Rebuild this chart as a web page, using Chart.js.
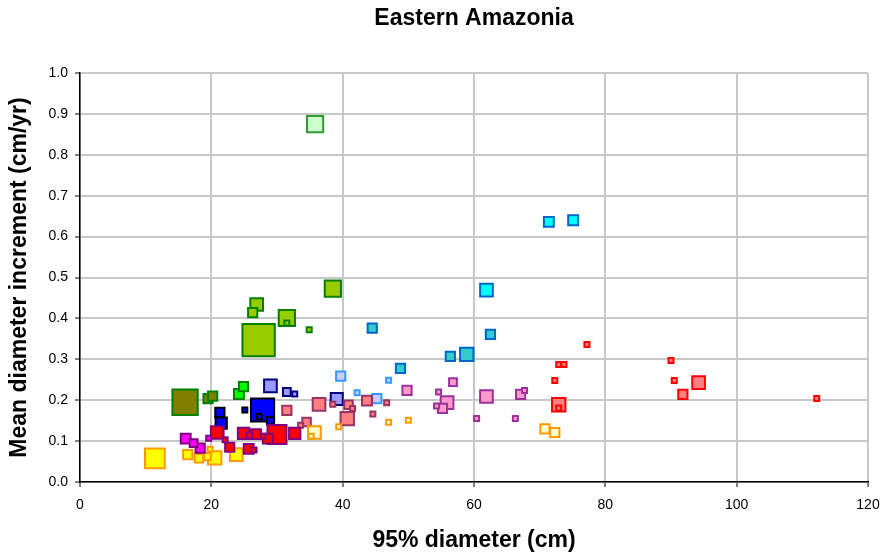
<!DOCTYPE html>
<html>
<head>
<meta charset="utf-8">
<title>Eastern Amazonia</title>
<script src="https://cdn.jsdelivr.net/npm/chart.js@4/dist/chart.umd.min.js"></script>
<style>
  html, body { margin: 0; padding: 0; background: #ffffff; }
  #wrap { width: 884px; height: 552px; }
</style>
</head>
<body>
<div id="wrap"><canvas id="chart" width="884" height="552"></canvas></div>
<script>
// Axis ticks
const xTicks = [0, 20, 40, 60, 80, 100, 120];
const yTicks = [0.0, 0.1, 0.2, 0.3, 0.4, 0.5, 0.6, 0.7, 0.8, 0.9, 1.0];

// Each point: [95% diameter (cm), mean diameter increment (cm/yr), relative weight]
const paleGreen   = [[35.8, 0.875, 2.6]];
const limeGreen   = [[27.2, 0.347, 4.9], [38.5, 0.473, 2.6], [31.5, 0.401, 2.6], [26.9, 0.434, 2.1],
                     [26.3, 0.414, 1.6], [31.5, 0.389, 1.0], [34.9, 0.372, 1.0]];
const olive       = [[16.0, 0.195, 3.9], [19.5, 0.204, 1.6], [20.2, 0.210, 1.6]];
const brightGreen = [[24.2, 0.215, 1.7], [24.9, 0.233, 1.6]];
const blue        = [[27.8, 0.176, 3.6], [21.5, 0.144, 1.9], [21.3, 0.170, 1.6], [25.1, 0.176, 1.0],
                     [27.3, 0.160, 1.0], [29.0, 0.150, 1.3]];
const periwinkle  = [[29.0, 0.235, 2.1], [31.5, 0.220, 1.4], [32.7, 0.215, 1.0], [39.1, 0.203, 2.0]];
const lavender    = [[39.7, 0.259, 1.6], [42.2, 0.218, 1.0], [45.2, 0.204, 1.6], [47.0, 0.249, 1.0]];
const teal        = [[44.5, 0.376, 1.6], [48.8, 0.278, 1.6], [56.4, 0.307, 1.6], [58.9, 0.312, 2.2],
                     [62.5, 0.361, 1.6]];
const cyan        = [[61.9, 0.469, 2.1], [71.4, 0.636, 1.7], [75.1, 0.640, 1.7]];
const pink        = [[55.9, 0.194, 2.1], [61.9, 0.209, 2.1], [56.8, 0.244, 1.4], [49.8, 0.224, 1.6],
                     [55.2, 0.180, 1.6], [67.1, 0.214, 1.6], [54.6, 0.220, 1.0], [54.3, 0.186, 1.0],
                     [67.7, 0.224, 1.0], [60.4, 0.155, 1.0], [66.3, 0.155, 1.0]];
const salmon      = [[36.4, 0.190, 2.1], [40.7, 0.155, 2.2], [40.9, 0.189, 1.5], [43.7, 0.199, 1.7],
                     [31.5, 0.175, 1.6], [34.5, 0.147, 1.5], [41.5, 0.180, 1.0], [38.5, 0.190, 1.0],
                     [44.6, 0.166, 1.0], [46.7, 0.194, 1.0], [33.6, 0.139, 1.0]];
const red         = [[30.0, 0.116, 3.0], [20.9, 0.121, 2.1], [24.9, 0.119, 1.9], [32.7, 0.119, 1.9],
                     [28.6, 0.106, 1.7], [26.8, 0.117, 1.7], [25.7, 0.081, 1.7], [22.8, 0.085, 1.6],
                     [25.8, 0.114, 1.1], [22.1, 0.103, 1.0], [26.5, 0.078, 1.0], [27.9, 0.112, 1.0]];
const magenta     = [[16.1, 0.106, 1.7], [18.3, 0.083, 1.6], [17.3, 0.095, 1.4], [19.6, 0.107, 1.0]];
const yellow      = [[11.4, 0.058, 3.1], [20.5, 0.059, 2.2], [23.8, 0.067, 2.1], [16.4, 0.067, 1.6],
                     [18.1, 0.058, 1.5], [19.4, 0.062, 1.3], [19.8, 0.080, 1.0]];
const cream       = [[35.7, 0.121, 2.1], [35.2, 0.112, 1.0], [70.8, 0.130, 1.6], [72.3, 0.121, 1.6],
                     [39.4, 0.135, 1.0], [47.0, 0.146, 1.0], [50.0, 0.151, 1.0]];
const scarlet     = [[72.9, 0.189, 2.2], [94.2, 0.243, 2.1], [91.8, 0.214, 1.6], [72.9, 0.181, 1.0],
                     [77.2, 0.336, 1.0], [72.9, 0.287, 1.0], [73.7, 0.287, 1.0], [72.3, 0.248, 1.0],
                     [90.0, 0.297, 1.0], [90.5, 0.248, 1.0], [112.2, 0.204, 1.0]];

// Marker styling: square side grows with the point's weight
const UNIT = 7;        // side (px) for weight 1
const BORDER = 2;
function radiusFor(w) {
  const side = UNIT * w - BORDER;
  return side / Math.SQRT2;
}

function series(label, pts, fill, edge) {
  return {
    label,
    data: pts.map(p => ({ x: p[0], y: p[1] })),
    pointStyle: 'rect',
    pointRadius: pts.map(p => radiusFor(p[2])),
    pointHoverRadius: pts.map(p => radiusFor(p[2])),
    backgroundColor: fill,
    borderColor: edge,
    pointBorderWidth: BORDER,
    showLine: false
  };
}

const datasets = [
  series('scarlet', scarlet, '#ff8080', '#ff0000'),
  series('magenta', magenta, '#ff00ff', '#800080'),
  series('red', red, '#ff0000', '#800080'),
  series('cream', cream, '#ffffcc', '#ff9900'),
  series('yellow', yellow, '#ffff00', '#ff9900'),
  series('salmon', salmon, '#ff8080', '#993366'),
  series('pink', pink, '#ff99cc', '#993399'),
  series('cyan', cyan, '#00ffff', '#0066cc'),
  series('teal', teal, '#33cccc', '#0066cc'),
  series('lavender', lavender, '#ccccff', '#3399ff'),
  series('periwinkle', periwinkle, '#9999ff', '#000080'),
  series('blue', blue, '#0000ff', '#000000'),
  series('brightGreen', brightGreen, '#00ff00', '#008000'),
  series('olive', olive, '#808000', '#008000'),
  series('limeGreen', limeGreen, '#99cc00', '#008000'),
  series('paleGreen', paleGreen, '#ccffcc', '#339933')
];

const FONT = "'Liberation Sans', Arial, sans-serif";

new Chart(document.getElementById('chart'), {
  type: 'scatter',
  data: { datasets },
  options: {
    responsive: false,
    animation: false,
    events: [],
    layout: { autoPadding: false, padding: { left: 0, right: 16, top: 0, bottom: 0 } },
    plugins: {
      legend: { display: false },
      tooltip: { enabled: false },
      title: {
        display: true,
        fullSize: false,
        text: 'Eastern Amazonia',
        color: '#000',
        font: { family: FONT, size: 23, weight: 'bold' },
        padding: { top: 5, bottom: 40.4 }
      }
    },
    scales: {
      x: {
        type: 'linear',
        min: xTicks[0],
        max: xTicks[xTicks.length - 1],
        afterBuildTicks: s => { s.ticks = xTicks.map(v => ({ value: v })); },
        afterFit: s => { s.height = 70; s.paddingLeft = 0; s.paddingRight = 0; },
        ticks: {
          color: '#000',
          font: { family: FONT, size: 14 },
          padding: 10,
          maxRotation: 0
        },
        grid: { color: '#c8c8c8', lineWidth: 2, tickColor: '#000', tickLength: 5, tickWidth: 1 },
        border: { display: true, color: '#000', width: 1.5 },
        title: {
          display: true,
          text: '95% diameter (cm)',
          color: '#000',
          font: { family: FONT, size: 23, weight: 'bold' },
          padding: { top: 0, bottom: -2 }
        }
      },
      y: {
        type: 'linear',
        min: yTicks[0],
        max: yTicks[yTicks.length - 1],
        afterBuildTicks: s => { s.ticks = yTicks.map(v => ({ value: v })); },
        afterFit: s => { s.width = 80; },
        ticks: {
          color: '#000',
          font: { family: FONT, size: 14 },
          padding: 7,
          callback: v => Number(v).toFixed(1)
        },
        grid: { color: '#c8c8c8', lineWidth: 2, tickColor: '#000', tickLength: 5, tickWidth: 1 },
        border: { display: true, color: '#000', width: 1.5 },
        title: {
          display: true,
          text: 'Mean diameter increment (cm/yr)',
          color: '#000',
          font: { family: FONT, size: 23, weight: 'bold' },
          padding: { top: 6, bottom: 0 }
        }
      }
    }
  }
});
</script>
</body>
</html>
